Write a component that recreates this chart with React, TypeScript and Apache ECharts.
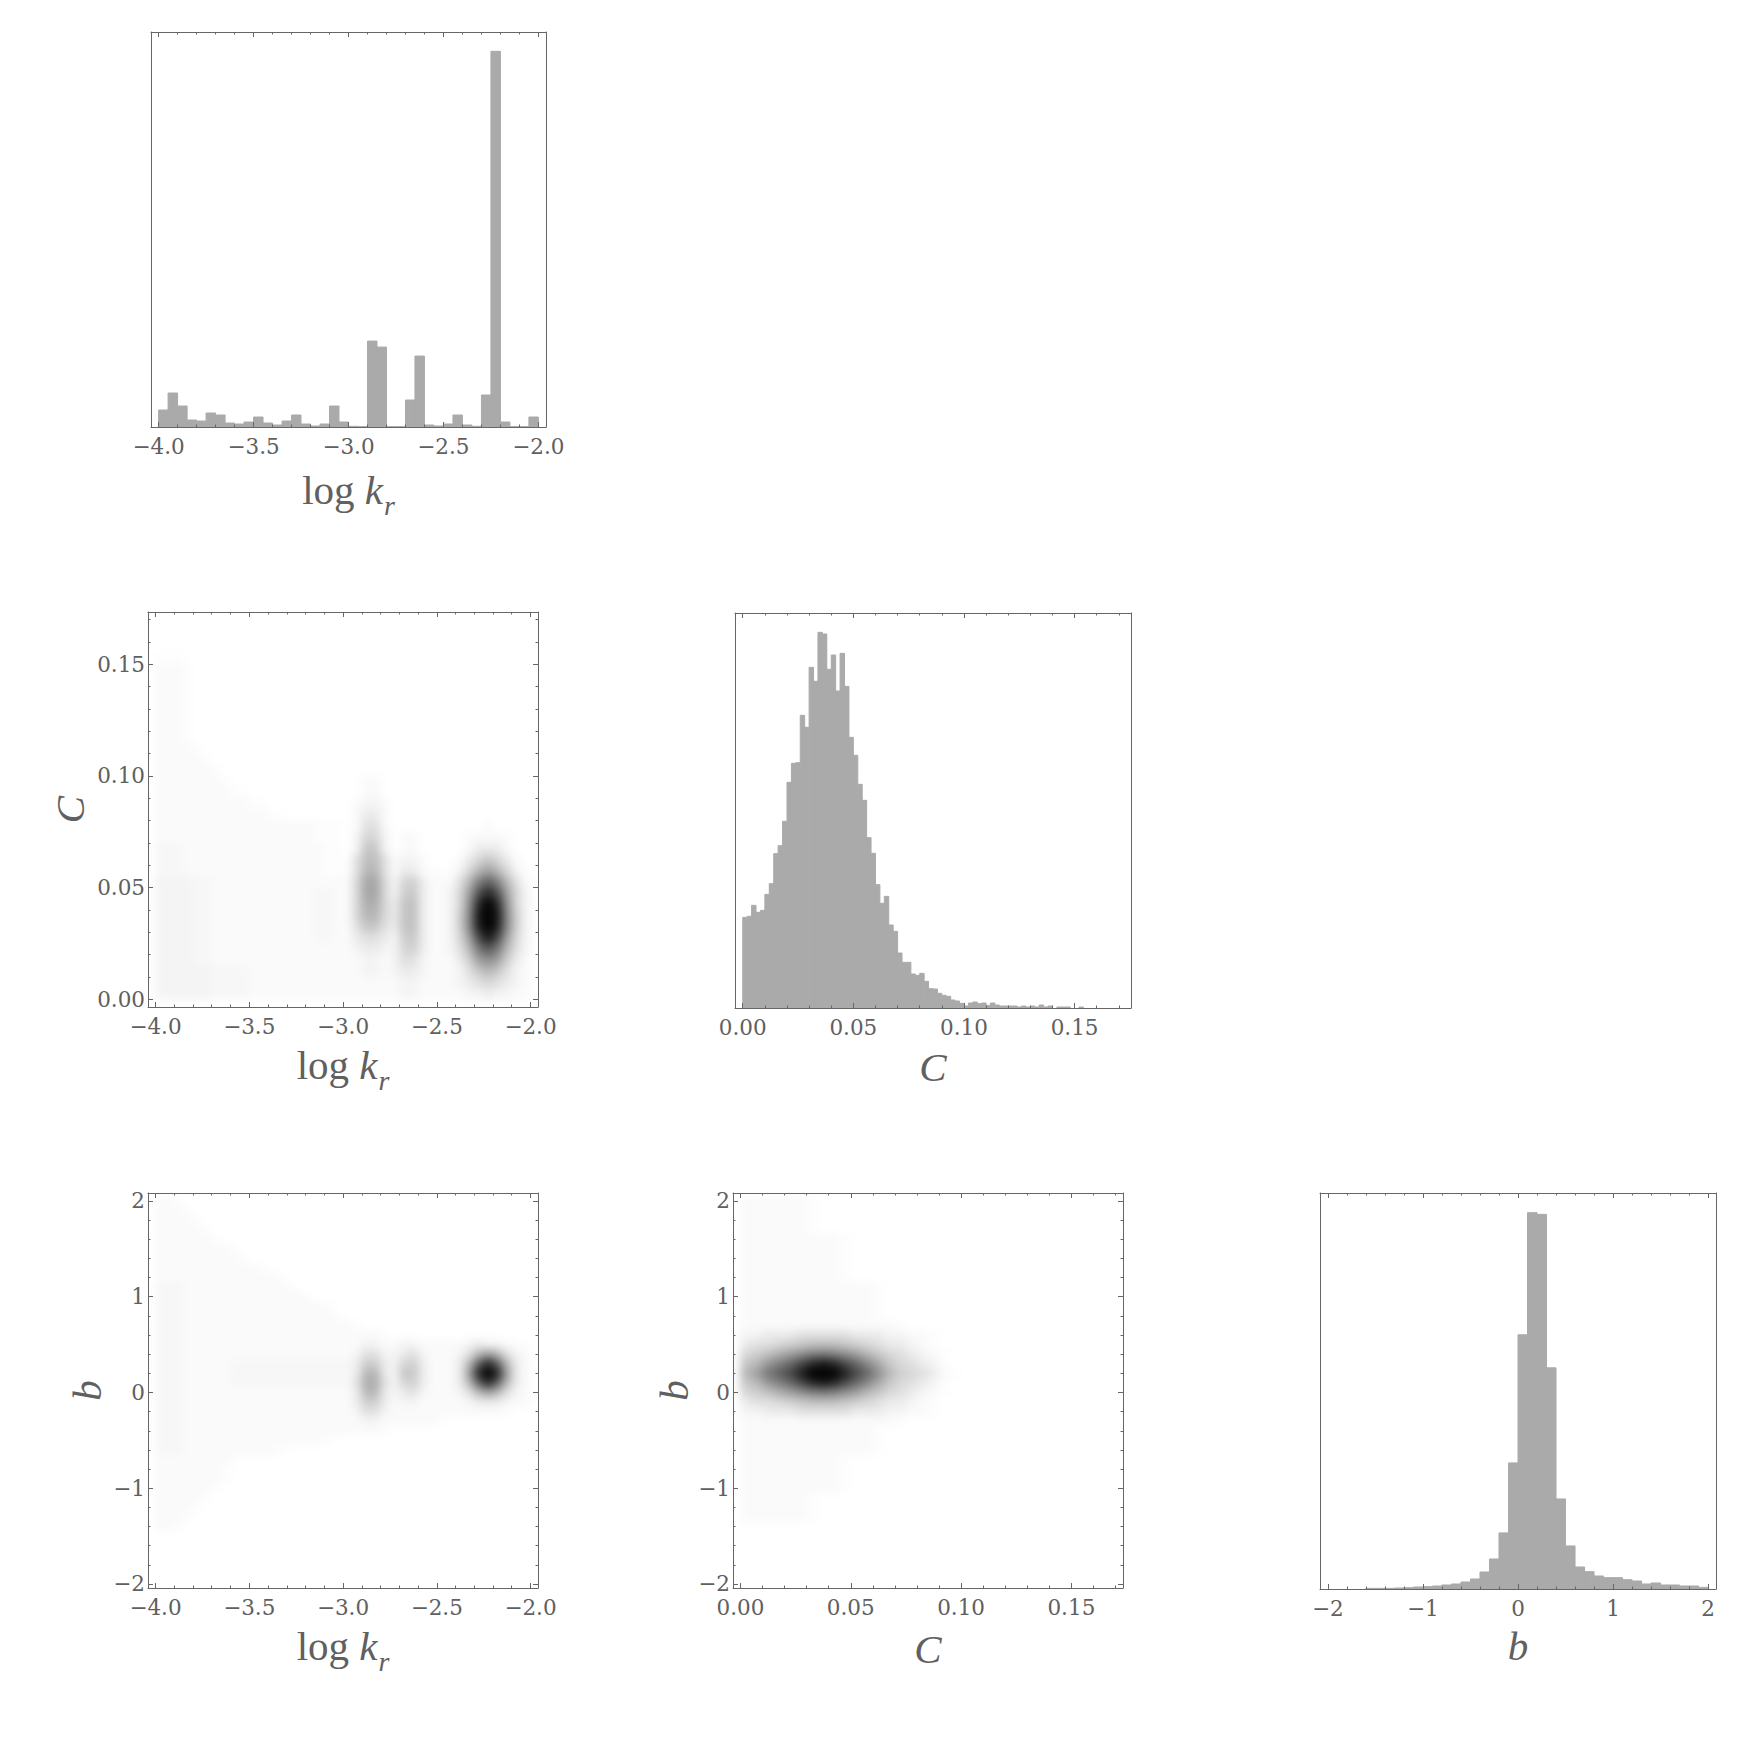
import React, { useEffect, useRef } from 'react';
import * as echarts from 'echarts';

const PAGE_W = 1746;
const PAGE_H = 1740;

// ---------------- data ----------------
// Histogram of log k_r : 40 bins of width 0.05 from -4.0
const logkBinStart = -4.0;
const logkBinWidth = 0.05;
const logkCounts = [
  51, 102, 63, 21, 18, 42, 36, 12, 9, 15,
  30, 12, 6, 18, 36, 9, 3, 9, 63, 15,
  2, 1, 258, 240, 1, 1, 81, 213, 6, 3,
  9, 36, 6, 2, 96, 1128, 15, 1, 1, 30,
];

// Histogram of C : bins of width 0.002 from 0
const cBinStart = 0;
const cBinWidth = 0.002;
const cCounts = [
  272, 275, 308, 287, 293, 341, 373, 463, 487, 560,
  677, 734, 736, 878, 842, 1022, 980, 1127, 1122, 1016,
  1059, 951, 1064, 965, 812, 758, 671, 623, 511, 464,
  370, 314, 335, 249, 230, 165, 137, 137, 102, 98,
  104, 80, 58, 57, 44, 38, 35, 24, 21, 14,
  6, 15, 18, 13, 15, 8, 15, 9, 6, 6,
  6, 6, 3, 6, 3, 6, 3, 9, 3, 6,
  0, 3, 3, 3, 0, 0, 3,
];

// Histogram of b : 40 bins of width 0.1 from -2
const bBinStart = -2;
const bBinWidth = 0.1;
const bCounts = [
  0, 0, 0, 0, 2, 2, 2, 3, 4, 6,
  7, 9, 12, 15, 21, 30, 51, 90, 168, 378,
  762, 1128, 1123, 663, 270, 129, 66, 52, 39, 34,
  34, 28, 24, 15, 18, 12, 12, 9, 9, 5,
];

// tick values
const logkMajor = [-4, -3.5, -3, -2.5, -2];
const logkMinor = [-4, -3.9, -3.8, -3.7, -3.6, -3.5, -3.4, -3.3, -3.2, -3.1, -3, -2.9, -2.8, -2.7, -2.6, -2.5, -2.4, -2.3, -2.2, -2.1, -2];
const cMajor = [0, 0.05, 0.1, 0.15];
const cMinor = [0, 0.01, 0.02, 0.03, 0.04, 0.05, 0.06, 0.07, 0.08, 0.09, 0.1, 0.11, 0.12, 0.13, 0.14, 0.15, 0.16, 0.17];
const bMajor = [-2, -1, 0, 1, 2];
const bMinor = [-2, -1.8, -1.6, -1.4, -1.2, -1, -0.8, -0.6, -0.4, -0.2, 0, 0.2, 0.4, 0.6, 0.8, 1, 1.2, 1.4, 1.6, 1.8, 2];

// Density grids: darkness level per cell, top row first.
// '0'-'9','a'-'z' = levels 0..35, '.' = 0.5, ':' = 1.5; missing trailing cells are 0.
const cellLogk = [-4, -2, 0.05];
const cellC = [0, 0.17, 0.005];
const cellB = [-2.05, 2.05, 0.1];

// C (rows, 0.17 at top) vs log k_r (columns)
const densityCvsLogk = [
  '',
  '',
  '',
  '...',
  '111.',
  '111.',
  '111.',
  '111.',
  '111.',
  '111.',
  '111.',
  '1111.',
  '11111.',
  '111111.',
  '1111111.00' + '0000000000' + '0011',
  '11111111..' + '0000000000' + '0011',
  '1111111111' + '..00000000' + '01221',
  '1111111111' + '11..000000' + '01331',
  '1111111111' + '1111111...' + '0144100000' + '000001',
  '1111111111' + '1111111...' + '0255201100' + '00011111',
  ':::1111111' + '11111111..' + '0277201100' + '00013331',
  ':::1111111' + '11111111..' + '.488412210' + '001357531',
  ':::1111111' + '11111111..' + '.49941331.' + '..259c952.',
  '2222::1111' + '1111111111' + '15bb525631' + '1149gkg941',
  '2222::1111' + '1111111::1' + '15bb526731' + '125cmrmc52',
  '2222::1111' + '1111111::1' + '15aa537831' + '125eryre52',
  '2222::1111' + '1111111::1' + '1599537831' + '126ftztf62',
  '2222::1111' + '1111111::1' + '1477437831' + '126fsysf62',
  '2222::1111' + '1111111::1' + '1344326731' + '125cntnc52',
  '2222::1111' + '1111111111' + '1233225631' + '1249hlh942',
  '2222::1111' + '1111111111' + '1122124421' + '1136cec631',
  '222222::::' + '1111111111' + '1122123321' + '1124797421',
  '222222::::' + '1111111111' + '1111112211' + '1123454321',
  '222222::::' + '1111111111' + '1111112211' + '1112232211',
];

// b (rows, 2.0 at top) vs log k_r (columns)
const densityBvsLogk = [
  '11.',
  '111.',
  '1111.',
  '11111.',
  '111111.',
  '11111111.',
  '111111111.',
  '1111111111' + '1.',
  '1111111111' + '111.',
  ':::1111111' + '1111.',
  ':::1111111' + '111111.',
  ':::1111111' + '11111111.',
  ':::1111111' + '111111111.',
  ':::1111111' + '1111111111' + '1.',
  ':::1111111' + '1111111111' + '1111.',
  ':::1111111' + '1111111111' + '1122112211' + '11123221..',
  ':::1111111' + '1111111111' + '1244223421' + '11249c9421',
  ':::11111::' + '::::::::::' + ':366325631' + '1139krk931',
  ':::11111::' + '::::::::::' + ':399327731' + '113crzrc31',
  ':::11111::' + '::::::::::' + ':4aa425631' + '1139krk931',
  ':::1111111' + '1111111111' + '1399323421' + '11249c9421',
  ':::1111111' + '1111111111' + '1366312211' + '1112333211',
  ':::1111111' + '1111111111' + '1244211111' + '1111111.',
  ':::1111111' + '1111111111' + '1122111111' + '.',
  ':::1111111' + '1111111111' + '1111.',
  ':::1111111' + '11111111.',
  ':::1111111' + '111.',
  '11111111.',
  '1111111.',
  '1111111.',
  '111111.',
  '11111.',
  '1111.',
  '111.',
  '11.',
  '',
  '',
  '',
  '',
  '',
  '',
];

// b (rows, 2.0 at top) vs C (columns)
const densityBvsC = [
  '111111.',
  '111111.',
  '111111.',
  '111111.',
  '111111111.',
  '111111111.',
  '111111111.',
  '111111111.',
  '111111111.',
  '111111111111.',
  '111111111111.',
  '111111111111.',
  '111111111111.',
  '11111111111111.',
  '22333444443332211.',
  '34456788876543321.',
  '568aceghgec9754321.',
  '79dgjnrtrnjfb75432.',
  '9chknsxzxsnje965431.',
  '79dgjnrtrnjfb75432.',
  '568aceghgec9754321.',
  '34456788876543321.',
  '22333444443332211.',
  '11111111111111.',
  '111111111111.',
  '111111111111.',
  '111111111111.',
  '111111111.',
  '111111111.',
  '111111111.',
  '111111111.',
  '111111.',
  '111111.',
  '111111.',
  '',
  '',
  '',
  '',
  '',
  '',
  '',
];

// ---------------- layout & style ----------------
const FRAME_COLOR = '#666666';
const TEXT_COLOR = '#606060';
const BAR_COLOR = '#aaaaaa';
const TICK_FONT = 'DejaVu Serif';
const TICK_SIZE = 21.5;
const NAME_FONT = 'Liberation Serif';
const NAME_SIZE = 41;
const BLUR = 4.5;

type Frame = { l: number; t: number; w: number; h: number };
const frames: Frame[] = [
  { l: 151, t: 32, w: 395, h: 395 }, // 0 log k hist
  { l: 148, t: 612, w: 390, h: 395 }, // 1 C vs log k
  { l: 735, t: 613, w: 396, h: 395 }, // 2 C hist
  { l: 148, t: 1193, w: 390, h: 395 }, // 3 b vs log k
  { l: 733, t: 1193, w: 390, h: 395 }, // 4 b vs C
  { l: 1320, t: 1193, w: 396, h: 396 }, // 5 b hist
];

const logkRange = [-4.04, -1.96];
const cRangeHist = [-0.0035, 0.1755];
const cRange = [-0.0034, 0.1734];
const bRange = [-2.042, 2.083];
const bRangeHist = [-2.083, 2.083];
const kHistTop = 1186;
const cHistTop = 1185;
const bHistTop = 1187;

const minus = (s: string) => s.replace('-', '\u2212');
const fmtLogk = (v: number) => minus(v.toFixed(1));
const fmtC = (v: number) => v.toFixed(2);
const fmtB = (v: number) => minus(String(Math.round(v)));

const lineStyle = { color: FRAME_COLOR, width: 1 };
const italicName = { fontFamily: NAME_FONT, fontSize: NAME_SIZE, color: TEXT_COLOR, fontStyle: 'italic' };
const logkName = '{n|log }{k|k}{r|r}';
const logkNameStyle = {
  fontFamily: NAME_FONT,
  fontSize: NAME_SIZE,
  color: TEXT_COLOR,
  rich: {
    n: { fontFamily: NAME_FONT, fontSize: NAME_SIZE, color: TEXT_COLOR, verticalAlign: 'top', lineHeight: 46 },
    k: { fontFamily: NAME_FONT, fontSize: NAME_SIZE, color: TEXT_COLOR, fontStyle: 'italic', verticalAlign: 'top', lineHeight: 46 },
    r: { fontFamily: NAME_FONT, fontSize: 28, color: TEXT_COLOR, fontStyle: 'italic', verticalAlign: 'top', padding: [22, 0, 0, 1] },
  },
};

function buildMain() {
  const xAxis: any[] = [];
  const yAxis: any[] = [];
  const series: any[] = [];

  const tickFont = { color: TEXT_COLOR, fontFamily: TICK_FONT, fontSize: TICK_SIZE };

  const addX = (gi: number, range: number[], major: number[], minor: number[], fmt: any, name: string, nameGap: number, nameStyle: any) => {
    const base = { type: 'value', gridIndex: gi, min: range[0], max: range[1], splitLine: { show: false }, z: 3, silent: true };
    const first = xAxis.length;
    xAxis.push({
      ...base, position: 'bottom',
      axisLine: { show: true, onZero: false, lineStyle },
      axisTick: { show: true, inside: true, length: 5, customValues: major, lineStyle },
      axisLabel: { show: true, customValues: major, formatter: fmt, margin: 8, ...tickFont },
      name, nameLocation: 'middle', nameGap, nameTextStyle: nameStyle,
    });
    xAxis.push({ ...base, position: 'bottom', axisLine: { show: false, onZero: false }, axisTick: { show: true, inside: true, length: 2.5, customValues: minor, lineStyle }, axisLabel: { show: false } });
    xAxis.push({ ...base, position: 'top', axisLine: { show: true, onZero: false, lineStyle }, axisTick: { show: true, inside: true, length: 5, customValues: major, lineStyle }, axisLabel: { show: false } });
    xAxis.push({ ...base, position: 'top', axisLine: { show: false, onZero: false }, axisTick: { show: true, inside: true, length: 2.5, customValues: minor, lineStyle }, axisLabel: { show: false } });
    return first;
  };

  const addY = (gi: number, range: number[], major: number[], minor: number[], fmt: any, name: string, nameGap: number) => {
    const base = { type: 'value', gridIndex: gi, min: range[0], max: range[1], splitLine: { show: false }, z: 3, silent: true };
    const first = yAxis.length;
    yAxis.push({
      ...base, position: 'left',
      axisLine: { show: true, onZero: false, lineStyle },
      axisTick: { show: true, inside: true, length: 5, customValues: major, lineStyle },
      axisLabel: { show: true, customValues: major, formatter: fmt, margin: 3, ...tickFont },
      name, nameLocation: 'middle', nameGap, nameTextStyle: italicName,
    });
    yAxis.push({ ...base, position: 'left', axisLine: { show: false, onZero: false }, axisTick: { show: true, inside: true, length: 2.5, customValues: minor, lineStyle }, axisLabel: { show: false } });
    yAxis.push({ ...base, position: 'right', axisLine: { show: true, onZero: false, lineStyle }, axisTick: { show: true, inside: true, length: 5, customValues: major, lineStyle }, axisLabel: { show: false } });
    yAxis.push({ ...base, position: 'right', axisLine: { show: false, onZero: false }, axisTick: { show: true, inside: true, length: 2.5, customValues: minor, lineStyle }, axisLabel: { show: false } });
    return first;
  };

  const addHistY = (gi: number, top: number) => {
    const base = { type: 'value', gridIndex: gi, min: 0, max: top, splitLine: { show: false }, z: 3, silent: true, axisTick: { show: false }, axisLabel: { show: false } };
    const first = yAxis.length;
    yAxis.push({ ...base, position: 'left', axisLine: { show: true, onZero: false, lineStyle } });
    yAxis.push({ ...base, position: 'right', axisLine: { show: true, onZero: false, lineStyle } });
    return first;
  };

  const hist = (xi: number, yi: number, start: number, width: number, counts: number[]) => ({
    type: 'custom',
    xAxisIndex: xi,
    yAxisIndex: yi,
    z: 2,
    silent: true,
    data: counts.map((h, i) => [start + i * width, start + (i + 1) * width, h]),
    encode: { x: [0, 1], y: 2 },
    renderItem: (_p: any, api: any) => {
      const h = api.value(2);
      if (!h) return null;
      const a = api.coord([api.value(0), h]);
      const b = api.coord([api.value(1), 0]);
      return {
        type: 'rect',
        shape: { x: a[0], y: a[1], width: b[0] - a[0], height: b[1] - a[1] },
        style: { fill: BAR_COLOR, stroke: BAR_COLOR, lineWidth: 1 },
      };
    },
  });

  // panel 0: log k histogram
  const x0 = addX(0, logkRange, logkMajor, logkMinor, fmtLogk, logkName, 42, logkNameStyle);
  const y0 = addHistY(0, kHistTop);
  series.push(hist(x0, y0, logkBinStart, logkBinWidth, logkCounts));

  // panel 1: C vs log k
  addX(1, logkRange, logkMajor, logkMinor, fmtLogk, logkName, 37, logkNameStyle);
  addY(1, cRange, cMajor, cMinor, fmtC, 'C', 58);

  // panel 2: C histogram
  const x2 = addX(2, cRangeHist, cMajor, cMinor, fmtC, 'C', 38, italicName);
  const y2 = addHistY(2, cHistTop);
  series.push(hist(x2, y2, cBinStart, cBinWidth, cCounts));

  // panel 3: b vs log k
  addX(3, logkRange, logkMajor, logkMinor, fmtLogk, logkName, 37, logkNameStyle);
  addY(3, bRange, bMajor, bMinor, fmtB, 'b', 41);

  // panel 4: b vs C
  addX(4, cRange, cMajor, cMinor, fmtC, 'C', 40, italicName);
  addY(4, bRange, bMajor, bMinor, fmtB, 'b', 29);

  // panel 5: b histogram
  const x5 = addX(5, bRangeHist, bMajor, bMinor, fmtB, 'b', 36, italicName);
  const y5 = addHistY(5, bHistTop);
  series.push(hist(x5, y5, bBinStart, bBinWidth, bCounts));

  return {
    animation: false,
    backgroundColor: 'transparent',
    grid: frames.map((f) => ({ left: f.l, top: f.t, width: f.w, height: f.h, containLabel: false, outerBoundsMode: 'none', show: false })),
    xAxis,
    yAxis,
    series,
  };
}

function cellRect(f: Frame, xr: number[], yr: number[], cx: number[], cy: number[]) {
  const px = (v: number) => f.l + ((v - xr[0]) / (xr[1] - xr[0])) * f.w;
  const py = (v: number) => f.t + ((yr[1] - v) / (yr[1] - yr[0])) * f.h;
  return { left: px(cx[0]), top: py(cy[1]), width: px(cx[1]) - px(cx[0]), height: py(cy[0]) - py(cy[1]) };
}

const cellCount = (c: number[]) => Math.round((c[1] - c[0]) / c[2]);

const LEVEL_CHARS = '0123456789abcdefghijklmnopqrstuvwxyz';
const levelOf = (ch: string) => (ch === '.' ? 0.5 : ch === ':' ? 1.5 : Math.max(0, LEVEL_CHARS.indexOf(ch)));

function decode(rows: string[]) {
  const out: number[][] = [];
  const n = rows.length;
  rows.forEach((s, i) => {
    const r = n - 1 - i;
    for (let c = 0; c < s.length; c++) {
      const v = levelOf(s[c]);
      if (v > 0) out.push([c, r, v]);
    }
  });
  return out;
}

const cats = (n: number) => Array.from({ length: n }, (_, i) => String(i));

// gray shade of each darkness level (0..35)
const levelDarkness = (v: number) => (v <= 0 ? 0 : v === 1 ? 0.02 : v === 2 ? 0.045 : v === 3 ? 0.08 : v === 4 ? 0.12 : Math.min(1, v / 32));
const levelColors = Array.from({ length: 36 }, (_, v) => {
  const g = Math.round(255 * (1 - levelDarkness(v)));
  return `rgb(${g},${g},${g})`;
});

function buildUnder() {
  const panels = [
    { rect: cellRect(frames[1], logkRange, cRange, cellLogk, cellC), grid: densityCvsLogk, nx: cellCount(cellLogk), ny: cellCount(cellC) },
    { rect: cellRect(frames[3], logkRange, bRange, cellLogk, cellB), grid: densityBvsLogk, nx: cellCount(cellLogk), ny: cellCount(cellB) },
    { rect: cellRect(frames[4], cRange, bRange, cellC, cellB), grid: densityBvsC, nx: cellCount(cellC), ny: cellCount(cellB) },
  ];
  return {
    animation: false,
    backgroundColor: '#ffffff',
    grid: panels.map((p) => ({ ...p.rect, containLabel: false, outerBoundsMode: 'none' })),
    xAxis: panels.map((p, i) => ({ type: 'category', gridIndex: i, data: cats(p.nx), show: false })),
    yAxis: panels.map((p, i) => ({ type: 'category', gridIndex: i, data: cats(p.ny), show: false })),
    visualMap: {
      show: false,
      type: 'continuous',
      min: 0,
      max: 35,
      inRange: { color: levelColors },
      seriesIndex: [0, 1, 2],
    },
    series: panels.map((p, i) => ({
      type: 'heatmap',
      xAxisIndex: i,
      yAxisIndex: i,
      data: decode(p.grid),
      progressive: 0,
      silent: true,
      itemStyle: { borderWidth: 0 },
    })),
  };
}

export default function App() {
  const underRef = useRef<HTMLDivElement>(null);
  const mainRef = useRef<HTMLDivElement>(null);
  useEffect(() => {
    const under = echarts.init(underRef.current as HTMLDivElement, null, { renderer: 'svg' });
    under.setOption(buildUnder() as any);
    const main = echarts.init(mainRef.current as HTMLDivElement, null, { renderer: 'svg' });
    main.setOption(buildMain() as any);
    return () => {
      under.dispose();
      main.dispose();
    };
  }, []);
  return (
    <div style={{ position: 'absolute', left: 0, top: 0, width: PAGE_W, height: PAGE_H, background: '#ffffff' }}>
      <div ref={underRef} style={{ position: 'absolute', left: 0, top: 0, width: PAGE_W, height: PAGE_H, filter: `blur(${BLUR}px)` }} />
      <div ref={mainRef} style={{ position: 'absolute', left: 0, top: 0, width: PAGE_W, height: PAGE_H }} />
    </div>
  );
}
